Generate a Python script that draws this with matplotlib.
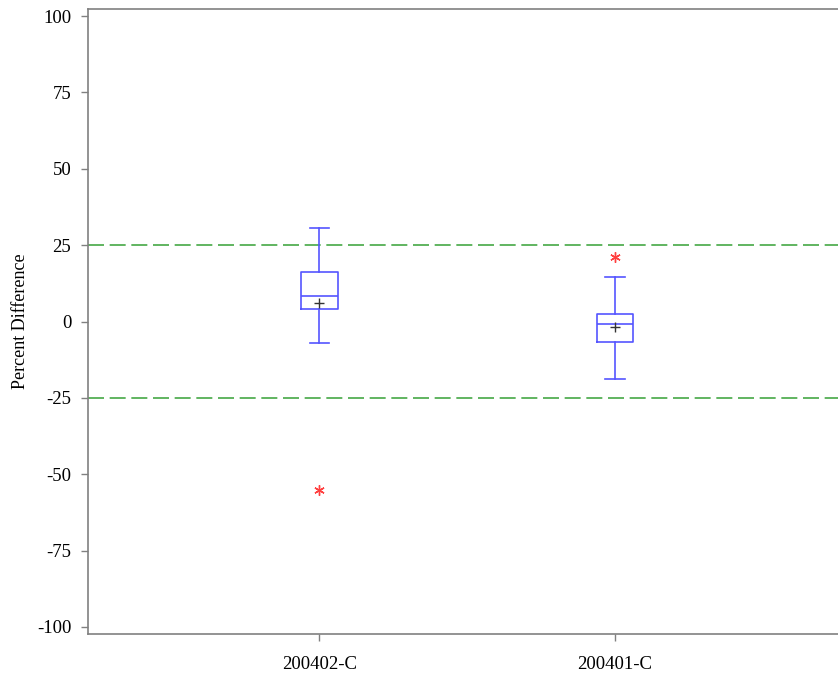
import matplotlib
matplotlib.use("Agg")
import matplotlib.pyplot as plt

plt.rcParams['font.family'] = ['Liberation Serif', 'DejaVu Serif']

categories = ["200402-C", "200401-C"]
whisker_low = [-6.9, -18.9]
q1 = [4.1, -6.8]
medians = [8.3, -0.7]
q3 = [16.1, 2.5]
whisker_high = [30.5, 14.6]
means = [6.0, -1.7]
outliers = [[-55.2], [21.2]]
y_ticks = [-100, -75, -50, -25, 0, 25, 50, 75, 100]
limit_lines = [25, -25]

fig = plt.figure(figsize=(8.38, 6.76), dpi=100)
ax = fig.add_axes([88 / 838, 42 / 676, 1 - 88 / 838 + 0.002, 625 / 676])

stats = []
for i, name in enumerate(categories):
    stats.append(dict(label=name, whislo=whisker_low[i], q1=q1[i], med=medians[i],
                      q3=q3[i], whishi=whisker_high[i], mean=means[i], fliers=outliers[i]))

pos = list(range(1, len(categories) + 1))
blue = '#5555ff'
ax.bxp(stats, positions=pos, widths=0.124, showmeans=True, showfliers=True,
       boxprops=dict(color=blue, linewidth=1.2),
       whiskerprops=dict(color=blue, linewidth=1.2),
       capprops=dict(color=blue, linewidth=1.2),
       medianprops=dict(color=blue, linewidth=1.2),
       meanprops=dict(marker='+', markeredgecolor='#333333', markersize=7, markeredgewidth=1),
       flierprops=dict(marker=(6, 2, 0), markeredgecolor='#ff4040', markersize=7.5,
                       markeredgewidth=1.0),
       capwidths=0.065)

for v in limit_lines:
    ax.axhline(v, color='#45a845', linewidth=1.2, dashes=(9.6, 3.4), zorder=0)

ax.set_xlim(0.217, 2.76)
ax.set_ylim(-102.3, 102.3)
ax.set_yticks(y_ticks)
ax.set_yticklabels([str(t) for t in y_ticks])
ax.set_xticks(pos)
ax.set_xticklabels(categories)
ax.tick_params(axis='both', labelsize=13.5, length=5, color='#808080', width=1)
ax.tick_params(axis='y', pad=7)
ax.tick_params(axis='x', pad=11)
ax.set_ylabel("Percent Difference", fontsize=13, labelpad=6)

for side in ['left', 'top', 'bottom']:
    ax.spines[side].set_color('#808080')
    ax.spines[side].set_linewidth(1.2)
ax.spines['right'].set_visible(False)

fig.savefig("out.png", dpi=100)
